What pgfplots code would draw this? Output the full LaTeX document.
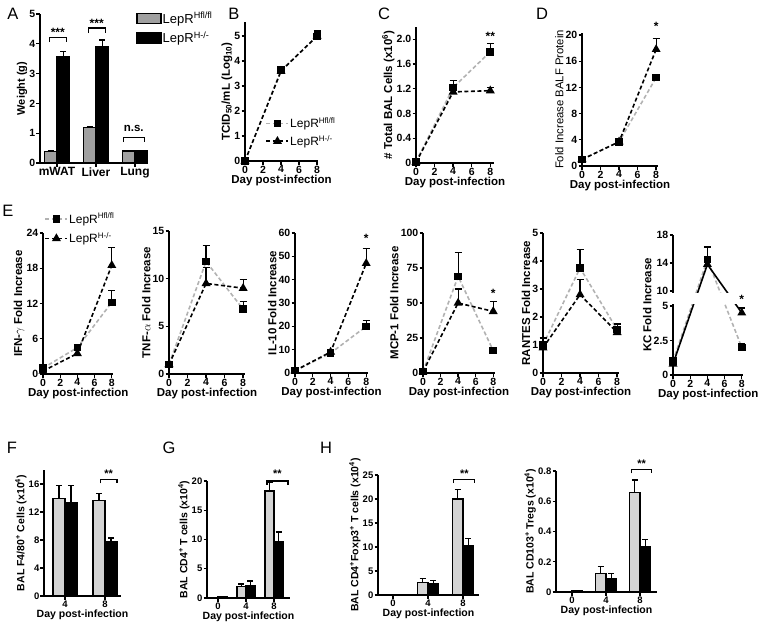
\documentclass[border=0pt]{standalone}
\usepackage{fontspec}
\setmainfont{Liberation Sans}
\usepackage{pgfplots}
\pgfplotsset{compat=1.18}
\definecolor{barA}{RGB}{160,160,160}
\definecolor{barL}{RGB}{212,212,212}
\definecolor{lineG}{RGB}{178,178,178}
\pgfplotsset{
  gp/.style={
    scale only axis, axis lines*=left, anchor=south west, clip=false,
    axis line style={line width=1.6pt, black},
    every tick/.append style={black, line width=1.3pt},
    tick align=outside, major tick length=3.5pt,
    /pgf/number format/assume math mode=true,
    ticklabel style={font=\bfseries\fontsize{10.5}{11}\selectfont, inner sep=1pt},
    label style={font=\bfseries\fontsize{11.5}{12}\selectfont},
    xlabel style={inner sep=1pt}, ylabel style={inner sep=1pt},
    legend style={draw=none, fill=none, inner sep=0pt, row sep=3pt, nodes={inner sep=1pt},
      font=\fontsize{12}{13}\selectfont},
    legend cell align=left,
  },
  lp/.style={gp, xmin=0, xtick={0,2,4,6,8}, ymin=0, xlabel={Day post-infection}},
  bp/.style={gp, ybar=0pt, ymin=0, xlabel={Day post-infection},
    ticklabel style={font=\bfseries\fontsize{9.5}{10}\selectfont},
    label style={font=\bfseries\fontsize{10.5}{11}\selectfont}},
  eb/.style={error bars/y dir=plus, error bars/y explicit,
    error bars/error bar style={solid, black, line width=1.2pt},
    error bars/error mark options={solid, black, line width=1.2pt, mark size=#1, rotate=90}},
  lg/.style={color=lineG, line width=1.6pt, dash pattern=on 4pt off 2.5pt,
    mark=square*, mark size=3pt, mark options={solid, fill=black, draw=black},
    legend image code/.code={\draw[##1, mark repeat=2, mark phase=2] plot coordinates {(0pt,0pt) (11pt,0pt) (22pt,0pt)};},
    eb=3.5pt},
  lb/.style={color=black, line width=1.6pt, dash pattern=on 4pt off 2.5pt,
    mark=triangle*, mark size=3.6pt, mark options={solid, fill=black, draw=black},
    legend image code/.code={\draw[##1, mark repeat=2, mark phase=2] plot coordinates {(0pt,0pt) (11pt,0pt) (22pt,0pt)};},
    eb=3.5pt},
  bg/.style={fill=#1, draw=black, line width=1.2pt,
    legend image code/.code={\draw[##1, line width=1.2pt] (0pt,-5pt) rectangle (24pt,5pt);},
    eb=3pt},
}
\newcommand{\sig}[4]{% x1, x2, ybottom, ytop
  \draw[line width=1.1pt] (axis cs:#1,#3) -- (axis cs:#1,#4) -- (axis cs:#2,#4) -- (axis cs:#2,#3);}
\begin{document}
\begin{tikzpicture}
\path[use as bounding box] (0,0) rectangle (764pt,-633pt);
\foreach \l/\x/\y in {A/13/14, B/234/14, C/384/14, D/542/14, E/8/211, F/12/448, G/169/448, H/326/448}
  \node[font=\fontsize{16.5}{17}\selectfont] at (\x pt,-\y pt) {\l};

% ---------------- A
\begin{axis}[gp, at={(40pt,-163pt)}, width=107pt, height=149pt,
  ybar=0pt, bar width=12.5pt, xmin=-0.436, xmax=2.31, ymin=0, ymax=5, ytick={0,...,5},
  xtick={0,1,2}, xticklabels={mWAT,Liver,Lung},
  xticklabel style={font=\bfseries\fontsize{12}{12}\selectfont},
  ylabel={Weight (g)}, ylabel style={font=\bfseries\fontsize{11}{12}\selectfont},
  legend style={at={(axis description cs:0.9,1.02)}, anchor=north west, row sep=5pt,
    font=\fontsize{13}{14}\selectfont}]
\addplot[bg=barA] coordinates {(0,0.38) +- (0,0.03) (1,1.18) +- (0,0.03) (2,0.40) +- (0,0.01)};
\addplot[bg=black] coordinates {(0,3.57) +- (0,0.18) (1,3.90) +- (0,0.23) (2,0.40) +- (0,0.01)};
\legend{LepR\textsuperscript{Hfl/fl}, LepR\textsuperscript{H-/-}}
\sig{-0.2}{0.24}{4.06}{4.22}
\sig{0.8}{1.24}{4.36}{4.53}
\sig{1.7}{2.24}{0.70}{0.87}
\node[font=\bfseries\fontsize{12}{12}\selectfont] at (axis cs:0.02,4.38) {***};
\node[font=\bfseries\fontsize{12}{12}\selectfont] at (axis cs:1.02,4.69) {***};
\node[font=\bfseries\fontsize{11.5}{12}\selectfont, anchor=south] at (axis cs:1.97,0.92) {n.s.};
\end{axis}

% ---------------- B
\begin{axis}[lp, at={(245pt,-161pt)}, width=73pt, height=139pt, xmax=8.1, ymax=5.56, ytick={0,...,5},
  ylabel={TCID\textsubscript{50}/mL (Log\textsubscript{10})},
  legend style={at={(axis description cs:0.28,0.32)}, anchor=north west, row sep=4pt}]
\addplot[lg] coordinates {(0,0) +- (0,0) (4,3.63) +- (0,0.08) (8,4.98) +- (0,0.22)};
\addplot[lb] coordinates {(0,0) +- (0,0) (4,3.60) +- (0,0.06) (8,5.00) +- (0,0.12)};
\legend{LepR\textsuperscript{Hfl/fl}, LepR\textsuperscript{H-/-}}
\end{axis}

% ---------------- C
\begin{axis}[lp, at={(416pt,-163pt)}, width=78pt, height=136pt, xmax=8.4, ymax=2.2,
  ytick={0,0.4,0.8,1.2,1.6,2.0}, yticklabels={0,0.4,0.8,1.2,1.6,2.0},
  ylabel={\# Total BAL Cells (x10\textsuperscript{6})}]
\addplot[lg] coordinates {(0,0.02) +- (0,0.01) (4,1.22) +- (0,0.11) (8,1.80) +- (0,0.13)};
\addplot[lb] coordinates {(0,0.01) +- (0,0) (4,1.15) +- (0,0.06) (8,1.17) +- (0,0.05)};
\node[font=\bfseries\fontsize{12}{12}\selectfont] at (axis cs:8,2.05) {**};
\end{axis}

% ---------------- D
\begin{axis}[lp, at={(582pt,-166pt)}, width=76pt, height=133pt, xmax=8.2, ymax=20.3,
  ytick={0,4,...,20},
  ylabel={Fold Increase BALF Protein}, ylabel style={font=\fontsize{11.3}{12}\selectfont}]
\addplot[lg] coordinates {(0,1) +- (0,0.2) (4,3.7) +- (0,0.3) (8,13.5) +- (0,0.3)};
\addplot[lb] coordinates {(0,1) +- (0,0.2) (4,3.7) +- (0,0.3) (8,17.8) +- (0,1.7)};
\node[font=\bfseries\fontsize{12}{12}\selectfont] at (axis cs:8,21.3) {*};
\end{axis}

% ---------------- E: IFN
\begin{axis}[lp, at={(43pt,-374pt)}, width=70.5pt, height=141pt, xmax=8.2, ymax=24,
  ytick={0,6,...,24}, ylabel={IFN-$\gamma$ Fold Increase},
  legend style={at={(axis description cs:0.02,1.15)}, anchor=north west, row sep=6pt}]
\addplot[lg] coordinates {(0,1) +- (0,0.3) (4,4.5) +- (0,0.5) (8,12.2) +- (0,2.0)};
\addplot[lb] coordinates {(0,0.5) +- (0,0.2) (4,3.5) +- (0,0.5) (8,18.5) +- (0,3.0)};
\legend{LepR\textsuperscript{Hfl/fl}, LepR\textsuperscript{H-/-}}
\end{axis}

% TNF
\begin{axis}[lp, at={(169pt,-374pt)}, width=76pt, height=143pt, xmax=8.2, ymax=15,
  ytick={0,5,10,15}, ylabel={TNF-$\alpha$ Fold Increase}]
\addplot[lg] coordinates {(0,1) +- (0,0.2) (4,11.8) +- (0,1.7) (8,6.8) +- (0,0.8)};
\addplot[lb] coordinates {(0,1) +- (0,0.2) (4,9.5) +- (0,1.7) (8,9.0) +- (0,0.9)};
\end{axis}

% IL-10
\begin{axis}[lp, at={(295pt,-373pt)}, width=73pt, height=140pt, xmax=8.2, ymax=60,
  ytick={0,10,...,60}, ylabel={IL-10 Fold Increase}]
\addplot[lg] coordinates {(0,1) +- (0,0.2) (4,8.5) +- (0,1) (8,20) +- (0,2.5)};
\addplot[lb] coordinates {(0,1) +- (0,0.2) (4,9) +- (0,1) (8,47) +- (0,6.5)};
\node[font=\bfseries\fontsize{12}{12}\selectfont] at (axis cs:8,57.5) {*};
\end{axis}

% MCP-1
\begin{axis}[lp, at={(423pt,-373pt)}, width=72pt, height=140pt, xmax=8.2, ymax=100,
  ytick={0,25,...,100}, ylabel={MCP-1 Fold Increase}]
\addplot[lg] coordinates {(0,1) +- (0,0.3) (4,69) +- (0,17) (8,16) +- (0,1)};
\addplot[lb] coordinates {(0,1) +- (0,0.3) (4,50) +- (0,10) (8,44) +- (0,7)};
\node[font=\bfseries\fontsize{12}{12}\selectfont] at (axis cs:8,57) {*};
\end{axis}

% RANTES
\begin{axis}[lp, at={(543pt,-373pt)}, width=76pt, height=140pt, xmax=8.2, ymax=5,
  ytick={0,...,5}, ylabel={RANTES Fold Increase}]
\addplot[lg] coordinates {(0,1) +- (0,0.25) (4,3.75) +- (0,0.67) (8,1.55) +- (0,0.2)};
\addplot[lb] coordinates {(0,0.9) +- (0,0.1) (4,2.8) +- (0,0.55) (8,1.45) +- (0,0.2)};
\end{axis}

% KC (broken axis: 0-5 and 10-18; error lengths of the upper part given in display units)
\begin{axis}[lp, at={(673pt,-375pt)}, width=70.5pt, height=140pt, xmax=8.2,
  y coord trafo/.code={\pgfmathparse{#1>7.5 ? 6.087+(#1-10)*0.507 : #1}},
  ymin=0, ymax=18, ytick={0,2.5,5,10,14,18}, yticklabels={0,2.5,5,10,14,18},
  ylabel={KC Fold Increase}]
\addplot[lg] coordinates {(0,1) +- (0,0.2) (4,14.5) +- (0,0.91) (8,2) +- (0,0.3)};
\addplot[lb, /tikz/solid] coordinates {(0,0.8) +- (0,0.2) (4,13.8) +- (0,1.22) (8,4.5) +- (0,0.35)};
\fill[white] (axis cs:-0.3,5.12) rectangle (axis cs:8.5,9.75);
\node[font=\bfseries\fontsize{12}{12}\selectfont] at (axis cs:8,5.5) {*};
\end{axis}

% ---------------- F
\begin{axis}[bp, at={(44pt,-596pt)}, width=77pt, height=126pt, bar width=12pt,
  xmin=-0.525, xmax=1.4, ymax=18, xtick={0,1}, xticklabels={4,8}, ytick={0,4,...,16},
  ylabel={BAL F4/80\textsuperscript{+} Cells (x10\textsuperscript{4})}]
\addplot[bg=barL] coordinates {(0,13.9) +- (0,1.9) (1,13.6) +- (0,1.1)};
\addplot[bg=black] coordinates {(0,13.4) +- (0,2.4) (1,7.8) +- (0,0.5)};
\sig{0.88}{1.3}{16.1}{16.7}
\node[font=\bfseries\fontsize{11}{12}\selectfont] at (axis cs:1.09,17.5) {**};
\end{axis}

% ---------------- G
\begin{axis}[bp, at={(207pt,-598pt)}, width=83pt, height=117pt, bar width=9pt,
  xmin=-0.39, xmax=2.57, ymax=20, xtick={0,1,2}, xticklabels={0,4,8}, ytick={0,5,...,20},
  ylabel={BAL CD4\textsuperscript{+} T cells (x10\textsuperscript{4})}]
\addplot[bg=barL] coordinates {(0,0.1) +- (0,0) (1,1.9) +- (0,0.5) (2,18.3) +- (0,1.5)};
\addplot[bg=black] coordinates {(0,0.2) +- (0,0.05) (1,2.1) +- (0,0.8) (2,9.7) +- (0,1.6)};
\sig{1.75}{2.5}{19.4}{20}
\node[font=\bfseries\fontsize{11}{12}\selectfont] at (axis cs:2.12,21.2) {**};
\end{axis}

% ---------------- H1
\begin{axis}[bp, at={(378pt,-595pt)}, width=101pt, height=120pt, bar width=10.5pt,
  xmin=-0.43, xmax=2.46, ymax=25, xtick={0,1,2}, xticklabels={0,4,8}, ytick={0,5,...,25},
  ylabel={BAL CD4\textsuperscript{+}Foxp3\textsuperscript{+} T cells (x10\textsuperscript{4})}]
\addplot[bg=barL] coordinates {(0,0.1) +- (0,0) (1,2.6) +- (0,0.8) (2,20) +- (0,2)};
\addplot[bg=black] coordinates {(0,0.15) +- (0,0) (1,2.3) +- (0,0.7) (2,10.2) +- (0,1.6)};
\sig{1.74}{2.34}{23.3}{24}
\node[font=\bfseries\fontsize{11}{12}\selectfont] at (axis cs:2.04,25.2) {**};
\end{axis}

% ---------------- H2
\begin{axis}[bp, at={(556pt,-592pt)}, width=101pt, height=121pt, bar width=10.5pt,
  xmin=-0.47, xmax=2.5, ymax=0.8, xtick={0,1,2}, xticklabels={0,4,8},
  ytick={0,0.2,0.4,0.6,0.8}, yticklabels={0,0.2,0.4,0.6,0.8},
  ylabel={BAL CD103\textsuperscript{+} Tregs (x10\textsuperscript{4})}]
\addplot[bg=barL] coordinates {(0,0.005) +- (0,0) (1,0.125) +- (0,0.045) (2,0.66) +- (0,0.08)};
\addplot[bg=black] coordinates {(0,0.008) +- (0,0) (1,0.09) +- (0,0.03) (2,0.30) +- (0,0.045)};
\sig{1.76}{2.35}{0.785}{0.81}
\node[font=\bfseries\fontsize{11}{12}\selectfont] at (axis cs:2.05,0.85) {**};
\end{axis}
\end{tikzpicture}
\end{document}
